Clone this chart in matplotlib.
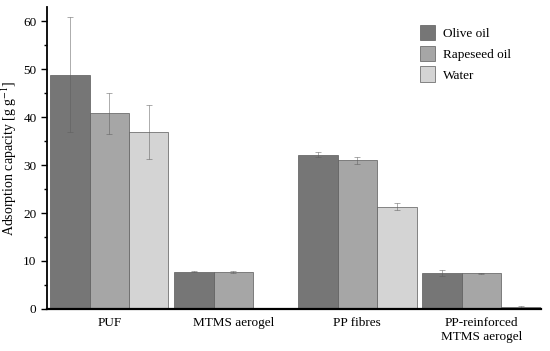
import matplotlib
matplotlib.use("Agg")
import matplotlib.pyplot as plt
import numpy as np

plt.rcParams['font.family'] = ['Liberation Serif', 'DejaVu Serif']
plt.rcParams['mathtext.fontset'] = 'stix'

groups = ["PUF", "MTMS aerogel", "PP fibres", "PP-reinforced\nMTMS aerogel"]
series = ["Olive oil", "Rapeseed oil", "Water"]
olive = [48.9, 7.8, 32.2, 7.5]
olive_err = [12.0, 0.15, 0.6, 0.6]
rapeseed = [40.8, 7.7, 31.0, 7.4]
rapeseed_err = [4.2, 0.2, 0.8, 0.15]
water = [36.9, 0.0, 21.3, 0.4]
water_err = [5.6, 0.0, 0.7, 0.15]

colors = ["#767676", "#a6a6a6", "#d4d4d4"]

fig = plt.figure(figsize=(5.5, 3.51), dpi=100)
ax = fig.add_axes([0.0855, 0.12, 0.898, 0.86])

x = np.arange(len(groups))
w = 0.318
vals = [olive, rapeseed, water]
errs = [olive_err, rapeseed_err, water_err]
for i in range(3):
    ax.bar(x + (i - 1) * w, vals[i], w, color=colors[i], edgecolor="#5a5a5a",
           linewidth=0.5, label=series[i],
           yerr=errs[i], error_kw=dict(ecolor="#5e5e5e", elinewidth=0.6, capsize=2.5, capthick=0.6, alpha=0.6))

ax.set_xlim(-0.502, 3.48)
ax.set_ylim(0, 63)
ax.set_yticks(range(0, 61, 10))
ax.set_yticks(range(5, 61, 10), minor=True)
ax.set_xticks(x)
ax.set_xticklabels(groups, fontsize=9.5)
ax.tick_params(axis='x', length=0, pad=6)
ax.tick_params(axis='y', which='major', length=4, width=1, labelsize=9.5, direction='out')
ax.tick_params(axis='y', which='minor', length=2.5, width=1)
ax.spines['top'].set_visible(False)
ax.spines['right'].set_visible(False)
ax.spines['left'].set_linewidth(1.3)
ax.spines['bottom'].set_linewidth(1.6)
ax.set_ylabel("Adsorption capacity [g g$^{-1}$]", fontsize=10, labelpad=3)

ax.legend(loc="upper right", bbox_to_anchor=(0.963, 0.98), frameon=False, fontsize=9.5,
          handlelength=1.1, handleheight=1.4, labelspacing=0.42, handletextpad=0.6)

fig.savefig("out.png", dpi=100)
